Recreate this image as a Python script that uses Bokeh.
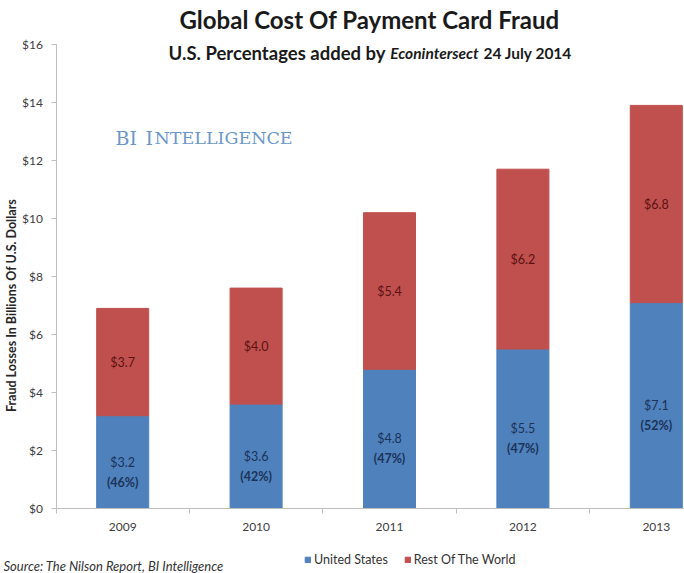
import math
from bokeh.plotting import figure
from bokeh.models import (ColumnDataSource, Range1d, FixedTicker, Label, Legend,
                          LegendItem)
from bokeh.core.properties import value
from bokeh.embed import file_html
from bokeh.resources import INLINE

# ---- data ----
years = ["2009", "2010", "2011", "2012", "2013"]
us = [3.2, 3.6, 4.8, 5.5, 7.1]
row = [3.7, 4.0, 5.4, 6.2, 6.8]
us_pct = ["(46%)", "(42%)", "(47%)", "(47%)", "(52%)"]
y_ticks = [0, 2, 4, 6, 8, 10, 12, 14, 16]
y_tick_labels = ["$0", "$2", "$4", "$6", "$8", "$10", "$12", "$14", "$16"]

BLUE = "#4f81bd"
RED = "#c0504d"
FONT = "Lato"

x = list(range(len(years)))
src = ColumnDataSource(dict(
    x=x, us=us, row=row,
    tot=[u + r for u, r in zip(us, row)],
    us_mid=[u / 2 for u in us],
    row_mid=[u + r / 2 for u, r in zip(us, row)],
    us_lbl=["$%.1f" % u for u in us],
    row_lbl=["$%.1f" % r for r in row],
    pct=us_pct,
))

# canvas == plotting frame; axes are pinned inside it
W, H = 684, 573
X_AX_PX, XPU = 55.5, 133.4        # pixel of category boundary -0.5, px per category
Y0_PX, Y16_PX = 508.0, 44.0       # pixel rows of $0 and $16
YPU = (Y0_PX - Y16_PX) / 16.0
x_start = -0.5 - X_AX_PX / XPU
x_end = x_start + W / XPU
y_start = -(H - Y0_PX) / YPU
y_end = 16 + Y16_PX / YPU

p = figure(width=W, height=H, output_backend="svg", toolbar_location=None,
           x_range=Range1d(x_start, x_end), y_range=Range1d(y_start, y_end),
           min_border=0, min_border_left=0, min_border_right=0,
           min_border_top=0, min_border_bottom=0)
p.outline_line_color = None
p.xgrid.grid_line_color = None
p.ygrid.grid_line_color = None
p.background_fill_color = "white"
p.border_fill_color = "white"

BW = 0.39
r_us = p.vbar(x="x", bottom=0, top="us", width=BW, source=src,
              fill_color=BLUE, line_color=BLUE)
r_row = p.vbar(x="x", bottom="us", top="tot", width=BW, source=src,
               fill_color=RED, line_color=RED)

# bar labels
p.text(x="x", y="us_mid", text="us_lbl", source=src, text_align="center",
       text_baseline="middle", text_font=value(FONT), text_font_size="12.5px",
       text_color="#1b3358")
p.text(x="x", y="us_mid", text="pct", source=src, text_align="center",
       text_baseline="middle", text_font=value(FONT), text_font_size="12.5px",
       text_font_style="bold", text_color="#1b3358", y_offset=20)
p.text(x="x", y="row_mid", text="row_lbl", source=src, text_align="center",
       text_baseline="middle", text_font=value(FONT), text_font_size="12.5px",
       text_color="#5a1212")

# y axis pinned at the left category boundary
ax = p.yaxis[0]
ax.fixed_location = -0.5
ax.bounds = (0, 16)
ax.ticker = FixedTicker(ticks=y_ticks)
ax.major_label_overrides = {t: l for t, l in zip(y_ticks, y_tick_labels)}
ax.axis_line_color = "#bfbfbf"
ax.major_tick_line_color = "#bfbfbf"
ax.major_tick_out = 5
ax.major_tick_in = 0
ax.minor_tick_line_color = None
ax.major_label_standoff = 8
ax.major_label_text_font = FONT
ax.major_label_text_font_size = "12px"
ax.major_label_text_color = "#404040"

# x axis pinned at $0
bx = p.xaxis[0]
bx.fixed_location = 0
bx.bounds = (-0.5, x_end)
bx.ticker = FixedTicker(ticks=x, minor_ticks=[i - 0.5 for i in range(len(years) + 1)])
bx.major_label_overrides = {i: y for i, y in enumerate(years)}
bx.axis_line_color = "#bfbfbf"
bx.major_tick_line_color = None
bx.major_tick_out = 0
bx.major_tick_in = 0
bx.minor_tick_line_color = "#bfbfbf"
bx.minor_tick_out = 5
bx.minor_tick_in = 0
bx.major_label_standoff = 9
bx.major_label_text_font = FONT
bx.major_label_text_font_size = "12px"
bx.major_label_text_color = "#404040"


def add_label(text, px, py, size, style="normal", color="#1a1a1a", align="left",
              baseline="middle", font=FONT, angle=0):
    p.add_layout(Label(text=text, text_font=font, text_font_size=size,
                       text_font_style=style, text_color=color, text_align=align,
                       text_baseline=baseline, angle=angle,
                       x=px, y=H - py, x_units="screen", y_units="screen"))


add_label("Global Cost Of Payment Card Fraud", 369, 19, "24px", "bold", align="center")

add_label("U.S. Percentages added by", 385, 52, "18.5px", "bold", align="right")
add_label("Econintersect", 434, 52, "15.5px", "bold italic", align="center")
add_label("24 July 2014", 483, 52, "15.5px", "bold", align="left")

WM = "#6a97c8"
add_label("BI", 115, 137, "19px", color=WM, baseline="alphabetic", font="DejaVu Serif")
add_label("I", 145, 137, "19px", color=WM, baseline="alphabetic", font="DejaVu Serif")
add_label("NTELLIGENCE", 154, 137, "17.5px", color=WM, baseline="alphabetic",
          font="DejaVu Serif")

add_label("Fraud Losses In Billions Of U.S. Dollars", 11, 305, "12.5px", "bold",
          color="#262626", align="center", angle=math.pi / 2)

add_label("Source: The Nilson Report, BI Intelligence", 3, 565, "13px", "italic",
          color="#333333")

legend = Legend(items=[LegendItem(label="United States", renderers=[r_us]),
                       LegendItem(label="Rest Of The World", renderers=[r_row])],
                orientation="horizontal", location=(304, H - 567),
                glyph_width=7, glyph_height=7, label_height=12, label_width=10,
                label_standoff=3, spacing=16, padding=0, margin=0,
                border_line_color=None, background_fill_alpha=0,
                label_text_font=FONT, label_text_font_size="12.5px",
                label_text_color="#333333")
p.add_layout(legend, "center")

open("out.html", "w").write(file_html(p, INLINE))
